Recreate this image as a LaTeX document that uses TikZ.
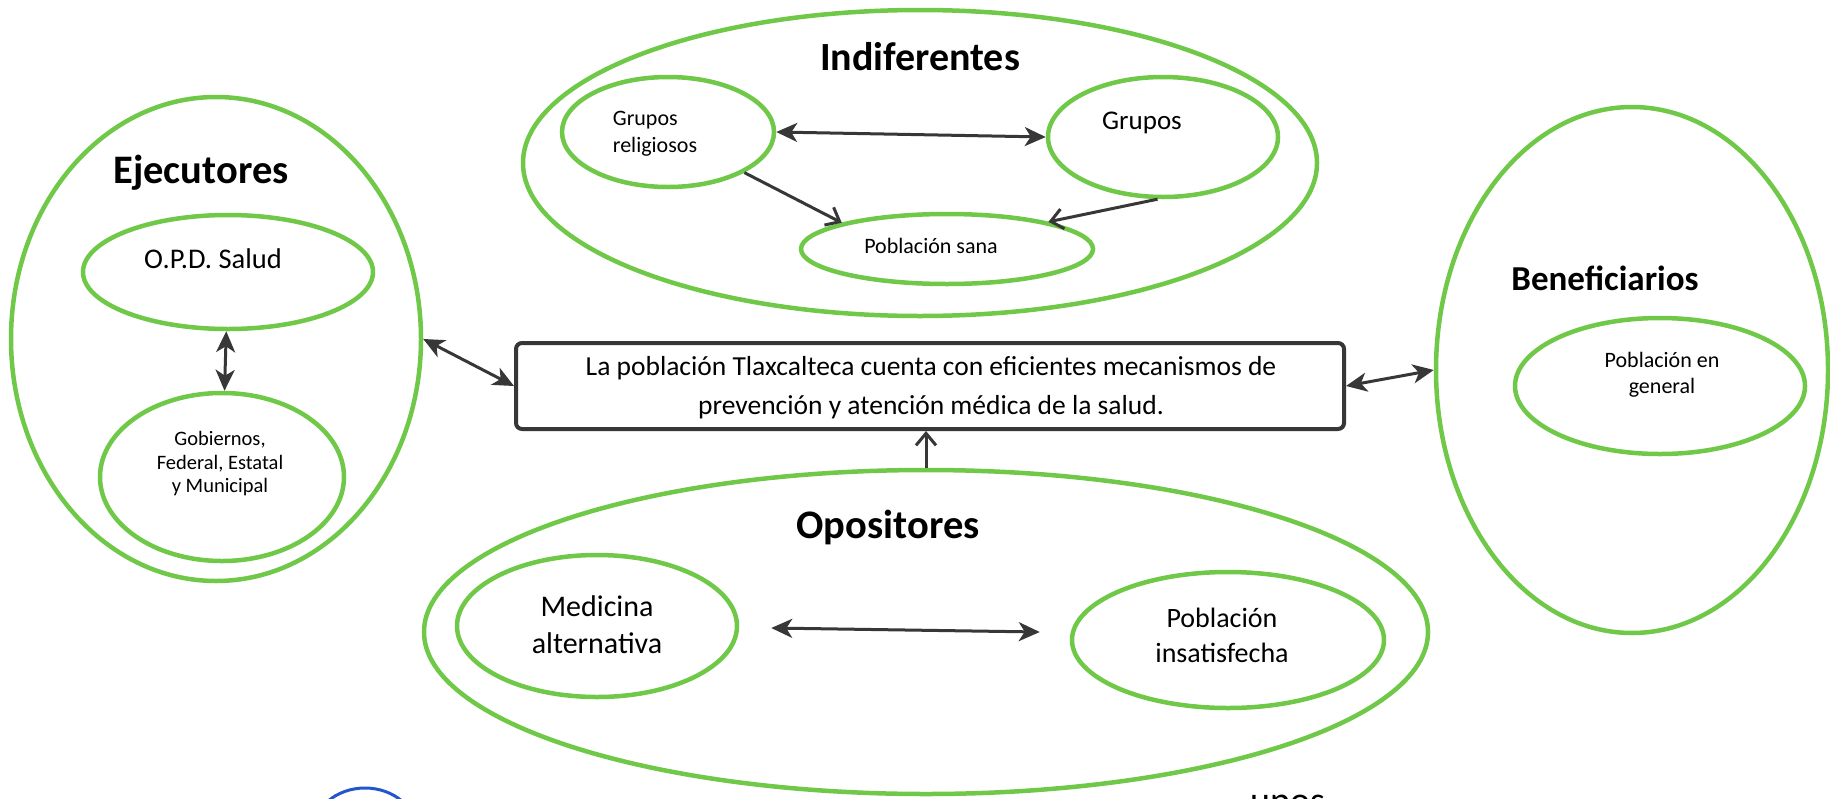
\documentclass[tikz,border=0pt]{standalone}
\usepackage{fontspec}
\setmainfont{Carlito}
\usetikzlibrary{arrows.meta,calc,shapes.geometric}

\definecolor{leaf}{RGB}{112,200,72}
\definecolor{ink}{RGB}{55,55,55}
\definecolor{pen}{RGB}{35,85,205}

\begin{document}
\begin{tikzpicture}[x=1pt,y=-1pt,
  oval/.style={ellipse,draw=leaf,line width=4.5pt,inner sep=0pt},
  heading/.style={font=\fontsize{40.5}{42}\selectfont\bfseries,text=black},
  txt/.style={align=center,inner sep=0pt,text=black},
  both/.style={ink,line width=3pt,{Stealth[length=21pt,width=19pt,inset=6pt]}-{Stealth[length=21pt,width=19pt,inset=6pt]}},
  barb/.style={ink,line width=3pt,-{Straight Barb[length=12pt,width=20pt]}}]

  % --------- page (the scan is cut at the bottom) ----------
  \clip (0,0) rectangle (1830,798);
  \fill[white] (0,0) rectangle (1830,798);

  % ============== Ejecutores =================
  \node[oval,minimum width=410pt,minimum height=484pt] (ejec) at (216,339) {};
  \node[heading] (ejecT) at (201,173) {Ejecutores};
  \node[oval,minimum width=290pt,minimum height=114pt] (opd) at (228,272) {};
  \node[txt,font=\fontsize{28.5}{32}\selectfont] (opdT) at (213,259) {O.P.D. Salud};
  \node[oval,minimum width=244pt,minimum height=168pt] (gob) at (222,477) {};
  \node[txt,font=\fontsize{20.5}{23.5}\selectfont] (gobT) at (220,464)
    {Gobiernos,\\Federal, Estatal\\y Municipal};

  % ============== Indiferentes =================
  \node[oval,minimum width=794pt,minimum height=306pt] (indif) at (920,163) {};
  \node[heading,font=\fontsize{40}{42}\selectfont\bfseries] (indifT) at (920,57) {Indiferentes};
  \node[oval,minimum width=212pt,minimum height=110pt] (relig) at (668,132) {};
  \node[txt,align=left,font=\fontsize{22}{27}\selectfont] (religT) at (655,134)
    {Grupos\\religiosos};
  \node[oval,minimum width=230pt,minimum height=120pt] (grupos) at (1163,137) {};
  \node[txt,font=\fontsize{27}{32}\selectfont] (gruposT) at (1142,123) {Grupos};
  \node[oval,minimum width=292pt,minimum height=70pt] (sana) at (947,249) {};
  \node[txt,font=\fontsize{22}{26}\selectfont] (sanaT) at (931,246) {Población sana};

  % ============== Objetivo =================
  \node[draw=ink,line width=4pt,rounded corners=6pt,minimum width=828pt,
        minimum height=86pt,inner sep=0pt] (obj) at (930,386) {};
  \node[txt,font=\fontsize{27.5}{39}\selectfont] (objT) at (931,388)
    {La población Tlaxcalteca cuenta con eficientes mecanismos de\\
     prevención y atención médica de la salud.};

  % ============== Beneficiarios =================
  \node[oval,minimum width=392pt,minimum height=526pt] (benef) at (1632,370) {};
  \node[heading,font=\fontsize{35}{40}\selectfont\bfseries] (benefT) at (1605,278) {Beneficiarios};
  \node[oval,minimum width=290pt,minimum height=136pt] (gen) at (1660,386) {};
  \node[txt,font=\fontsize{22}{26}\selectfont] (genT) at (1662,375) {Población en\\general};

  % ============== Opositores =================
  \node[oval,minimum width=1004pt,minimum height=324pt] (opos) at (926,632) {};
  \node[heading] (oposT) at (888,527) {Opositores};
  \node[oval,minimum width=280pt,minimum height=142pt] (medi) at (597,626) {};
  \node[txt,font=\fontsize{30}{37}\selectfont] (mediT) at (597,625) {Medicina\\alternativa};
  \node[oval,minimum width=312pt,minimum height=136pt] (insat) at (1228,640) {};
  \node[txt,font=\fontsize{28}{35}\selectfont] (insatT) at (1222,635) {Población\\insatisfecha};

  % Connectors
  \draw[both] (opd) -- (gob);
  \draw[both] (ejec.east) -- (obj.west);
  \draw[both] (obj.east) -- (benef.west);
  \draw[both] (relig.east) -- (grupos.west);
  \draw[barb] (relig.-28) -- (sana.166);
  \draw[barb] (grupos.-95) -- (sana.15);
  \draw[barb] (opos.north) -- (opos.north |- obj.south);
  \draw[both] ($(medi.east)+(32,2)$) -- ($(insat.west)+(-30,-8)$);

  % scan leftovers at the lower edge
  \draw[pen,line width=3pt] (365,832) ellipse [x radius=52, y radius=44];
  \node[txt,anchor=north west,font=\fontsize{38}{38}\selectfont] (cutT) at (1250,795) {upos};

\end{tikzpicture}
\end{document}
